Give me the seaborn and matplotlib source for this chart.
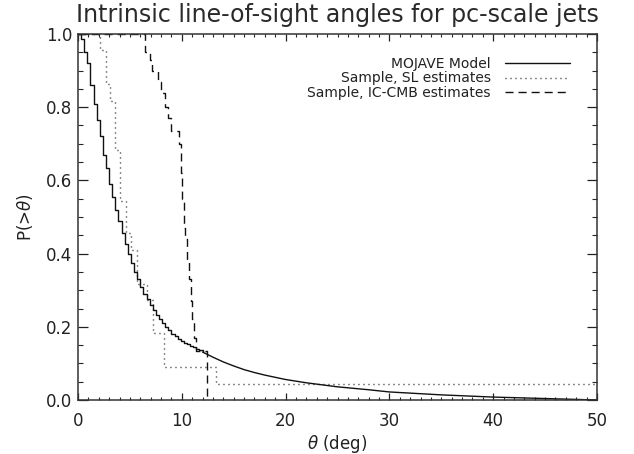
import numpy as np
import pandas as pd
import matplotlib
matplotlib.use("Agg")
import matplotlib.pyplot as plt
import seaborn as sns
from matplotlib.ticker import MultipleLocator

# ---- data ----
model_theta = [0.0, 0.3, 0.6, 0.9, 1.2, 1.5, 1.8, 2.1, 2.4, 2.7, 3.0, 3.3, 3.6, 3.9,
               4.2, 4.5, 4.8, 5.1, 5.4, 5.7, 6.0, 6.3, 6.6, 6.9, 7.2, 7.5, 7.8, 8.1,
               8.4, 8.7, 9.0, 9.3, 9.6, 9.9, 10.2, 10.5, 10.8, 11.1, 11.4, 11.7, 12.0,
               13.0, 14.0, 15.0, 16.0, 17.0, 18.0, 20.0, 22.0, 25.0, 28.0, 30.0, 35.0,
               40.0, 45.0, 50.0]
model_p = [1.0, 0.985, 0.95, 0.92, 0.86, 0.81, 0.765, 0.72, 0.67, 0.635, 0.59, 0.555,
           0.52, 0.49, 0.455, 0.425, 0.40, 0.375, 0.35, 0.33, 0.31, 0.29, 0.275, 0.26,
           0.245, 0.232, 0.22, 0.21, 0.20, 0.19, 0.18, 0.174, 0.168, 0.162, 0.157,
           0.152, 0.148, 0.144, 0.140, 0.136, 0.131, 0.117, 0.104, 0.093, 0.083, 0.075,
           0.068, 0.056, 0.047, 0.036, 0.028, 0.022, 0.014, 0.008, 0.004, 0.0]
model_step_end = 12.0   # binned (stepped) part of the model ends here

sl_theta = [0.0, 2.1, 2.7, 3.1, 3.6, 4.0, 4.6, 5.1, 5.7, 6.6, 7.2, 8.3, 13.3, 50.0]
sl_p = [1.0, 0.955, 0.864, 0.818, 0.682, 0.545, 0.455, 0.409, 0.318, 0.273, 0.182,
        0.091, 0.045, 0.045]

ic_theta = [0.0, 6.5, 6.9, 7.1, 7.7, 8.0, 8.4, 8.7, 9.0, 9.7, 9.9, 10.0, 10.2, 10.3,
            10.5, 10.7, 10.9, 11.0, 11.2, 11.4, 12.4]
ic_p = [1.0, 0.95, 0.93, 0.90, 0.87, 0.84, 0.80, 0.77, 0.735, 0.70, 0.62, 0.55, 0.47,
        0.44, 0.38, 0.33, 0.27, 0.22, 0.17, 0.135, 0.0]

labels = ["MOJAVE Model", "Sample, SL estimates", "Sample, IC-CMB estimates"]

# ---- style ----
sns.set_theme(style="white")
plt.rcParams["font.family"] = ["DejaVu Sans"]
plt.rcParams["lines.scale_dashes"] = False
plt.rcParams["mathtext.fontset"] = "dejavusans"

fig = plt.figure(figsize=(6.34, 4.54), dpi=100)
ax = fig.add_axes([78 / 634, 1 - 400 / 454, (597 - 78) / 634, (400 - 34) / 454])

ink = "#111111"
mt = np.array(model_theta)
mp = np.array(model_p)
head = mt <= model_step_end
tail = mt >= model_step_end
sns.lineplot(x=mt[head], y=mp[head], ax=ax, drawstyle="steps-post", estimator=None,
             sort=False, color=ink, lw=1.0, label=labels[0])
sns.lineplot(x=mt[tail], y=mp[tail], ax=ax, estimator=None,
             sort=False, color=ink, lw=1.0)
sns.lineplot(x=sl_theta, y=sl_p, ax=ax, drawstyle="steps-post", estimator=None,
             sort=False, color=ink, lw=1.0, label=labels[1])
sns.lineplot(x=ic_theta, y=ic_p, ax=ax, drawstyle="steps-post", estimator=None,
             sort=False, color=ink, lw=1.0, label=labels[2])
ax.lines[2].set_dashes((0.7, 2.9))
ax.lines[3].set_dashes((5.8, 3.6))

ax.set_xlim(0, 50)
ax.set_ylim(0, 1.0)
ax.xaxis.set_major_locator(MultipleLocator(10))
ax.xaxis.set_minor_locator(MultipleLocator(1))
ax.yaxis.set_major_locator(MultipleLocator(0.2))
ax.yaxis.set_minor_locator(MultipleLocator(0.05))
ax.yaxis.set_major_formatter(plt.FormatStrFormatter("%.1f"))

ax.tick_params(axis="x", which="major", direction="in", length=5, width=0.9,
               top=True, bottom=True, labelsize=12, pad=9, colors="#222222")
ax.tick_params(axis="x", which="minor", direction="in", length=2.5, width=0.8,
               top=True, bottom=True)
ax.tick_params(axis="y", which="major", direction="in", length=7.5, width=0.9,
               left=True, right=True, labelsize=12, pad=4, colors="#222222")
ax.tick_params(axis="y", which="minor", direction="in", length=3.8, width=0.8,
               left=True, right=True)
for s in ax.spines.values():
    s.set_color("#333333")
    s.set_linewidth(1.1)

ax.set_xlabel(r"$\theta$ (deg)", fontsize=12, labelpad=2, color="#222222")
ax.set_ylabel(r"P(>$\theta$)", fontsize=12, labelpad=8, color="#222222")
ax.set_title("Intrinsic line-of-sight angles for pc-scale jets", fontsize=17,
             pad=8.5, color="#2a2a2a")

leg = ax.legend(loc="upper right", bbox_to_anchor=(0.948, 0.937), frameon=False,
                markerfirst=False, fontsize=10, handlelength=4.7,
                handletextpad=1.0, labelspacing=0.03, borderaxespad=0,
                borderpad=0)
for t in leg.get_texts():
    t.set_color("#222222")

fig.savefig("out.png", dpi=100)
